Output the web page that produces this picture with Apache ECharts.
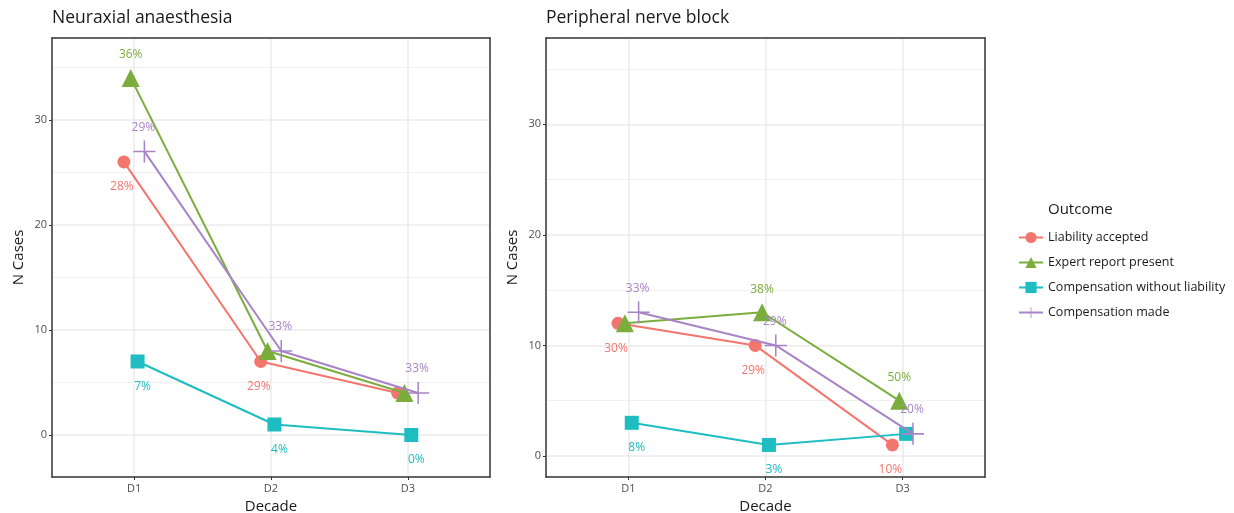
<!DOCTYPE html>
<html lang="en">
  <head>
    <meta charset="UTF-8" />
    <title>Outcomes by decade</title>
    <script src="https://cdn.jsdelivr.net/npm/echarts@6/dist/echarts.min.js"></script>
    <style>
      html, body { margin: 0; padding: 0; background: #fff; }
      #chart { width: 1234px; height: 513px; }
    </style>
  </head>
  <body>
    <div id="chart"></div>
    <script>
      var decades = ["D1", "D2", "D3"];
      var outcomes = [
        "Liability accepted",
        "Expert report present",
        "Compensation without liability",
        "Compensation made",
      ];
      var panels = ["Neuraxial anaesthesia", "Peripheral nerve block"];

      // N cases per outcome, per decade
      var neuraxialLiability = [26, 7, 4];
      var neuraxialExpert = [34, 8, 4];
      var neuraxialNoLiability = [7, 1, 0];
      var neuraxialMade = [27, 8, 4];
      var peripheralLiability = [12, 10, 1];
      var peripheralExpert = [12, 13, 5];
      var peripheralNoLiability = [3, 1, 2];
      var peripheralMade = [13, 10, 2];

      // percentage labels (null = label not shown)
      var neuraxialLiabilityPct = ["28%", "29%", null];
      var neuraxialExpertPct = ["36%", null, null];
      var neuraxialNoLiabilityPct = ["7%", "4%", "0%"];
      var neuraxialMadePct = ["29%", "33%", "33%"];
      var peripheralLiabilityPct = ["30%", "29%", "10%"];
      var peripheralExpertPct = [null, "38%", "50%"];
      var peripheralNoLiabilityPct = ["8%", "3%", null];
      var peripheralMadePct = ["33%", "29%", "20%"];

      var yTicks = [0, 10, 20, 30];
      var yMinorTicks = [5, 15, 25, 35];

      var colors = ["#F3766E", "#7AAD3C", "#1DBDC1", "#A884C6"];
      var plusPath = "path://M-0.7,-10h1.4v20h-1.4z M-10,-0.7h20v1.4h-20z";
      var symbols = ["circle", "triangle", "rect", plusPath];
      var symbolSizes = [13, 18, 14, 22];
      var dodge = [-0.075, -0.025, 0.025, 0.075];
      var labelShift = [[-2, 25], [0, -23], [5, 25], [-1, -24]];

      var mCharts = echarts.init(document.getElementById("chart"));
      var fontFamily = "Open Sans, Liberation Sans, sans-serif";
      var grids = [
        { left: 52, right: 744, top: 38, bottom: 36, outerBoundsMode: "none", containLabel: false },
        { left: 546, right: 249, top: 38, bottom: 36, outerBoundsMode: "none", containLabel: false },
      ];
      var yRanges = [[-4, 37.8], [-1.9, 37.8]];
      var panelValues = [
        [neuraxialLiability, neuraxialExpert, neuraxialNoLiability, neuraxialMade],
        [peripheralLiability, peripheralExpert, peripheralNoLiability, peripheralMade],
      ];
      var panelPct = [
        [neuraxialLiabilityPct, neuraxialExpertPct, neuraxialNoLiabilityPct, neuraxialMadePct],
        [peripheralLiabilityPct, peripheralExpertPct, peripheralNoLiabilityPct, peripheralMadePct],
      ];

      var xAxes = [];
      var yAxes = [];
      var series = [];
      var titles = [];

      panels.forEach(function (name, p) {
        titles.push({
          text: name,
          left: grids[p].left,
          top: 9,
          padding: 0,
          textStyle: { fontFamily: fontFamily, fontSize: 17.5, fontWeight: "normal", color: "#1a1a1a" },
        });
        xAxes.push({
          type: "value",
          gridIndex: p,
          min: 0.4,
          max: 3.6,
          name: "Decade",
          nameLocation: "middle",
          nameGap: 21,
          nameTextStyle: { fontFamily: fontFamily, fontSize: 15, color: "#1a1a1a" },
          axisLine: { show: true, onZero: false, lineStyle: { color: "#333", width: 1.5 } },
          axisTick: { show: true, length: 3, customValues: [1, 2, 3], lineStyle: { color: "#333" } },
          axisLabel: {
            customValues: [1, 2, 3],
            margin: 6,
            fontFamily: fontFamily,
            fontSize: 11,
            color: "#4d4d4d",
            formatter: function (v) { return decades[Math.round(v) - 1]; },
          },
          splitLine: { show: true, lineStyle: { color: "#ebebeb", width: 1.5 } },
        });
        yAxes.push({
          type: "value",
          gridIndex: p,
          min: yRanges[p][0],
          max: yRanges[p][1],
          name: "N Cases",
          nameLocation: "middle",
          nameGap: 26,
          nameTextStyle: { fontFamily: fontFamily, fontSize: 15, color: "#1a1a1a" },
          axisLine: { show: true, onZero: false, lineStyle: { color: "#333", width: 1.5 } },
          axisTick: { show: true, length: 3, customValues: yTicks, lineStyle: { color: "#333" } },
          axisLabel: { customValues: yTicks, margin: 5, fontFamily: fontFamily, fontSize: 11, color: "#4d4d4d" },
          splitLine: { show: true, lineStyle: { color: "#ebebeb", width: 1.5 } },
        });
      });
      // minor gridlines and the top/right frame
      panels.forEach(function (name, p) {
        yAxes.push({
          type: "value",
          gridIndex: p,
          position: "right",
          min: yRanges[p][0],
          max: yRanges[p][1],
          axisLine: { show: true, onZero: false, lineStyle: { color: "#333", width: 1.5 } },
          axisTick: { show: false, customValues: yMinorTicks },
          axisLabel: { show: false },
          splitLine: { show: true, lineStyle: { color: "#f0f0f0", width: 1 } },
        });
        xAxes.push({
          type: "value",
          gridIndex: p,
          position: "top",
          min: 0.4,
          max: 3.6,
          axisLine: { show: true, onZero: false, lineStyle: { color: "#333", width: 1.5 } },
          axisTick: { show: false },
          axisLabel: { show: false },
          splitLine: { show: false },
        });
      });

      panels.forEach(function (name, p) {
        outcomes.forEach(function (outcome, k) {
          var vals = panelValues[p][k];
          var pcts = panelPct[p][k];
          series.push({
            name: outcome,
            type: "line",
            xAxisIndex: p,
            yAxisIndex: p,
            z: 2 + k,
            data: vals.map(function (v, i) {
              return { value: [i + 1 + dodge[k], v], pct: pcts[i] };
            }),
            symbol: symbols[k],
            symbolSize: symbolSizes[k],
            showSymbol: true,
            color: colors[k],
            lineStyle: { width: 2, color: colors[k] },
            itemStyle: { color: colors[k] },
            emphasis: { disabled: true },
            label: {
              show: true,
              position: "inside",
              fontFamily: fontFamily,
              fontSize: 12,
              color: colors[k],
              formatter: function (params) { return params.data.pct || ""; },
            },
            labelLayout: { dx: labelShift[k][0], dy: labelShift[k][1], hideOverlap: false },
          });
        });
      });

      titles.push({
        text: "Outcome",
        left: 1048,
        top: 202,
        padding: 0,
        textStyle: { fontFamily: fontFamily, fontSize: 15, fontWeight: "normal", color: "#1a1a1a" },
      });

      mCharts.setOption({
        animation: false,
        title: titles,
        grid: grids,
        xAxis: xAxes,
        yAxis: yAxes,
        legend: {
          data: outcomes,
          orient: "vertical",
          left: 1013,
          top: 226,
          itemWidth: 24,
          itemHeight: 14,
          itemGap: 12,
          textStyle: { fontFamily: fontFamily, fontSize: 12.5, color: "#1a1a1a" },
        },
        series: series,
      });
      window.onresize = mCharts.resize;
    </script>
  </body>
</html>
